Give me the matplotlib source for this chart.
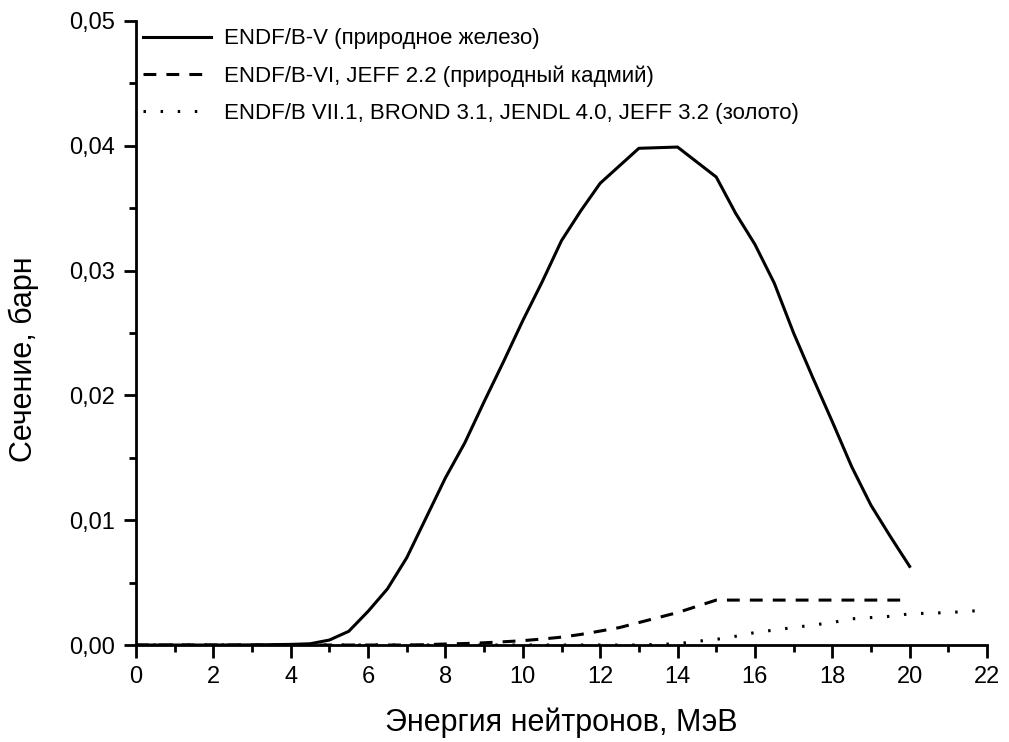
import matplotlib
matplotlib.use("Agg")
import matplotlib.pyplot as plt
from matplotlib.ticker import MultipleLocator, FuncFormatter

plt.rcParams["font.family"] = ["Liberation Sans", "DejaVu Sans"]

# железо (ENDF/B-V)
e_fe = [0, 1, 2, 3, 4, 4.5, 5, 5.5, 6, 6.5, 7, 7.5, 8, 8.5, 9, 9.5, 10, 10.5, 11,
        11.5, 12, 12.5, 13, 14, 15, 15.5, 16, 16.5, 17, 17.5, 18, 18.5, 19, 19.5, 20]
s_fe = [0, 0, 0, 0.00001, 0.00005, 0.0001, 0.0004, 0.0011, 0.0027, 0.0045, 0.0070,
        0.0102, 0.0134, 0.0162, 0.0195, 0.0227, 0.0260, 0.0291, 0.0324, 0.0348, 0.0370,
        0.0384, 0.0398, 0.0399, 0.0375, 0.0346, 0.0321, 0.0290, 0.0250, 0.0214, 0.0179,
        0.0143, 0.0112, 0.0087, 0.0063]

# кадмий (ENDF/B-VI, JEFF 2.2)
e_cd = [0, 2, 4, 6, 7, 7.5, 8, 8.5, 9, 9.5, 10, 10.5, 11, 11.5, 12, 12.5, 13, 13.5,
        14, 14.5, 15, 16, 17, 18, 19, 20]
s_cd = [0, 0, 0, 0, 0, 0.00003, 0.00008, 0.00012, 0.00018, 0.00026, 0.00035, 0.00048,
        0.00063, 0.00085, 0.00112, 0.0014, 0.0018, 0.0022, 0.0026, 0.0031, 0.0036,
        0.0036, 0.0036, 0.0036, 0.0036, 0.0036]

# золото
e_au = [0, 2, 4, 6, 8, 10, 12, 13, 14, 14.5, 15, 15.5, 16, 16.5, 17, 17.5, 18, 18.5,
        19, 19.5, 20, 21, 22]
s_au = [0, 0, 0, 0, 0, 0, 0, 0, 0.0001, 0.0003, 0.00045, 0.0007, 0.001, 0.0012,
        0.0014, 0.0016, 0.0018, 0.0021, 0.0022, 0.0023, 0.0025, 0.0026, 0.0028]

fig = plt.figure(figsize=(10.09, 7.42), dpi=100)
ax = fig.add_axes([0.1348, 0.1307, 0.8434, 0.841])

ax.plot(e_fe, s_fe, color="black", lw=2.2, linestyle="-",
        label="ENDF/B-V (природное железо)")
ax.plot(e_cd, s_cd, color="black", lw=2.2, linestyle=(0, (4.2, 3.3)),
        label="ENDF/B-VI, JEFF 2.2 (природный кадмий)")
ax.plot(e_au, s_au, color="black", lw=2.2, linestyle=(0, (0.8, 4.8)),
        label="ENDF/B VII.1, BROND 3.1, JENDL 4.0, JEFF 3.2 (золото)")

ax.set_xlim(0, 22)
ax.set_ylim(0, 0.05)
ax.xaxis.set_major_locator(MultipleLocator(2))
ax.xaxis.set_minor_locator(MultipleLocator(1))
ax.yaxis.set_major_locator(MultipleLocator(0.01))
ax.yaxis.set_minor_locator(MultipleLocator(0.005))
ax.yaxis.set_major_formatter(FuncFormatter(lambda v, p: f"{v:.2f}".replace(".", ",")))

for side in ["top", "right"]:
    ax.spines[side].set_visible(False)
for side in ["left", "bottom"]:
    ax.spines[side].set_linewidth(2)

ax.tick_params(which="major", direction="out", length=9, width=2, labelsize=17, pad=6)
ax.tick_params(which="minor", direction="out", length=5, width=2)

ax.set_xlabel("Энергия нейтронов, МэВ", fontsize=22)
ax.set_ylabel("Сечение, барн", fontsize=22)
ax.xaxis.set_label_coords(0.5, -0.1)
ax.yaxis.set_label_coords(-0.114, 0.458)

ax.legend(loc="upper left", frameon=False, fontsize=16, handlelength=3.05,
          handletextpad=0.6, labelspacing=0.73, borderaxespad=0.03, borderpad=0.3,
          bbox_to_anchor=(0.0, 1.0))

fig.savefig("out.png", dpi=100)
